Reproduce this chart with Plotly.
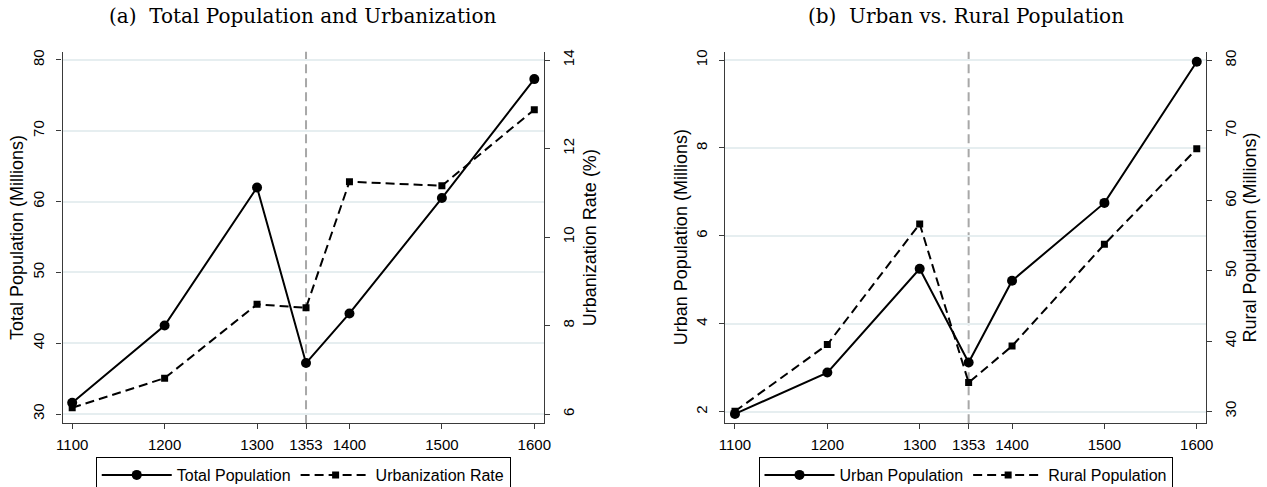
import plotly.graph_objects as go

# Survey years and the break year marked on both panels
years = [1100, 1200, 1300, 1353, 1400, 1500, 1600]
break_year = 1353

# Panel (a): total population (millions) and urbanization rate (%)
total_pop = [31.6, 42.5, 62.0, 37.2, 44.2, 60.5, 77.3]
urban_rate = [6.14, 6.81, 8.48, 8.40, 11.25, 11.16, 12.88]

# Panel (b): urban and rural population (millions)
urban_pop = [1.95, 2.89, 5.25, 3.12, 4.98, 6.75, 9.96]
rural_pop = [30.0, 39.5, 56.7, 34.1, 39.3, 53.8, 67.4]

W, H = 1267, 487
SANS = "Liberation Sans, Arial, sans-serif"
SERIF = "DejaVu Serif, serif"
AXIS_COLOR = "#3a3a3a"
GRID_COLOR = "#e6eef0"

fig = go.Figure()

solid = dict(color="black", width=2)
dashed = dict(color="black", width=2, dash="9px,5px")
circle = dict(symbol="circle", size=10, color="black")
square = dict(symbol="square", size=7, color="black")

fig.add_trace(go.Scatter(x=years, y=total_pop, name="Total Population",
                         mode="lines+markers", line=solid, marker=circle,
                         xaxis="x", yaxis="y", legend="legend"))
fig.add_trace(go.Scatter(x=years, y=urban_rate, name="Urbanization Rate",
                         mode="lines+markers", line=dashed, marker=square,
                         xaxis="x", yaxis="y2", legend="legend"))
fig.add_trace(go.Scatter(x=years, y=urban_pop, name="Urban Population",
                         mode="lines+markers", line=solid, marker=circle,
                         xaxis="x2", yaxis="y3", legend="legend2"))
fig.add_trace(go.Scatter(x=years, y=rural_pop, name="Rural Population",
                         mode="lines+markers", line=dashed, marker=square,
                         xaxis="x2", yaxis="y4", legend="legend2"))

ydom = [1 - 423.3 / H, 1 - 51.7 / H]
dom_a = [62.5 / W, 544 / W]
dom_b = [725 / W, 1206 / W]

tickfont = dict(family=SANS, size=15, color="black")

def xaxis(domain, rng, anchor):
    return dict(domain=domain, range=rng, anchor=anchor,
                tickmode="array", tickvals=years, ticktext=[str(y) for y in years],
                showline=True, linecolor=AXIS_COLOR, linewidth=1.2,
                ticks="outside", ticklen=5, tickcolor=AXIS_COLOR,
                ticklabelstandoff=3,
                showgrid=False, zeroline=False, tickfont=tickfont)

def yaxis(rng, tickvals, anchor, side="left", overlaying=None, grid=False):
    d = dict(domain=ydom, range=rng, anchor=anchor, side=side,
             tickmode="array", tickvals=tickvals,
             showline=True, linecolor=AXIS_COLOR, linewidth=1.2,
             ticks="outside", ticklen=5, tickcolor=AXIS_COLOR,
             ticklabelstandoff=6,
             tickangle=-90, tickfont=tickfont,
             showgrid=grid, gridcolor=GRID_COLOR, gridwidth=1.5,
             zeroline=False)
    if overlaying:
        d["overlaying"] = overlaying
    return d

legend_style = dict(orientation="h", xanchor="center",
                    y=1 - 457 / H, yanchor="top", bordercolor="black", borderwidth=1,
                    bgcolor="white", itemwidth=70, tracegroupgap=0,
                    font=dict(family=SANS, size=16))

fig.update_layout(
    width=W, height=H,
    margin=dict(l=0, r=0, t=0, b=0, autoexpand=False),
    paper_bgcolor="white", plot_bgcolor="white",
    font=dict(family=SANS, size=15, color="black"),
    xaxis=xaxis(dom_a, [1089.5, 1610.5], "y"),
    yaxis=yaxis([28.69, 81.17], [30, 40, 50, 60, 70, 80], "x", grid=True),
    yaxis2=yaxis([5.79, 14.19], [6, 8, 10, 12, 14], "x", side="right", overlaying="y"),
    xaxis2=xaxis(dom_b, [1089.2, 1610], "y3"),
    yaxis3=yaxis([1.736, 10.19], [2, 4, 6, 8, 10], "x2", grid=True),
    yaxis4=yaxis([28.29, 81.23], [30, 40, 50, 60, 70, 80], "x2", side="right", overlaying="y3"),
    legend=dict(x=(dom_a[0] + dom_a[1]) / 2, **legend_style),
    legend2=dict(x=(dom_b[0] + dom_b[1]) / 2, **legend_style),
)

# Vertical reference line at the break year on both panels
for xr, yr in (("x", "y"), ("x2", "y3")):
    fig.add_shape(type="line", xref=xr, yref=f"{yr} domain",
                  x0=break_year, x1=break_year, y0=0, y1=1,
                  line=dict(color="#a8a8a8", width=2, dash="9px,5px"), layer="below")

# Panel titles
for text, dom in (("(a)\u00a0\u00a0Total Population and Urbanization", dom_a),
                  ("(b)\u00a0\u00a0Urban vs. Rural Population", dom_b)):
    fig.add_annotation(text=text, xref="paper", yref="paper",
                       x=(dom[0] + dom[1]) / 2, y=1 - 16 / H,
                       xanchor="center", yanchor="middle", showarrow=False,
                       font=dict(family=SERIF, size=20, color="black"))

# Axis titles
axis_titles = [
    ("Total Population (Millions)", 17.5),
    ("Urbanization Rate (%)", 590.7),
    ("Urban Population (Millions)", 681.7),
    ("Rural Population (Millions)", 1250),
]
ymid = 1 - ((51.7 + 423.3) / 2) / H
for text, px in axis_titles:
    fig.add_annotation(text=text, xref="paper", yref="paper",
                       x=px / W, y=ymid, xanchor="center", yanchor="middle",
                       textangle=-90, showarrow=False,
                       font=dict(family=SANS, size=18, color="black"))

fig.write_html("out.html")
